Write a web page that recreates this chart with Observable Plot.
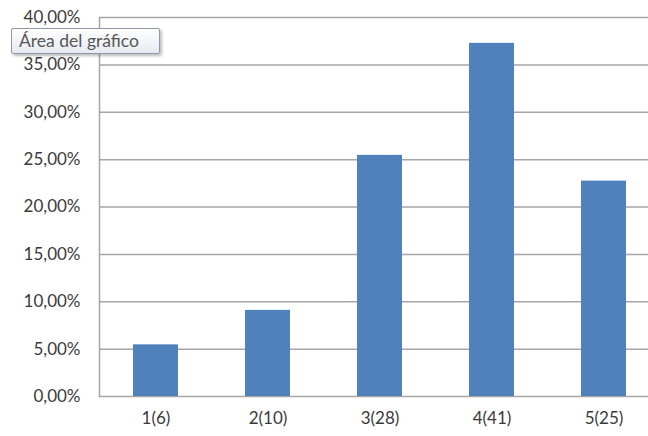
<!DOCTYPE html>
<html>
<head>
<meta charset="utf-8">
<script src="https://cdn.jsdelivr.net/npm/d3@7"></script>
<script src="https://cdn.jsdelivr.net/npm/@observablehq/plot@0.6"></script>
<style>
  html, body { margin: 0; padding: 0; background: #fff; }
  #wrap { position: relative; width: 648px; height: 436px; overflow: hidden; }
  #tip {
    position: absolute; left: 11px; top: 28px; width: 140px; height: 24px;
    border: 1px solid #8f98a8; border-radius: 2px;
    background: linear-gradient(#ffffff, #e6eaf2);
    box-shadow: 2px 2px 3px rgba(0,0,0,0.25);
    font-family: Lato, "Open Sans", sans-serif; font-size: 17.5px; color: #575757;
    line-height: 24px; padding-left: 7px; box-sizing: content-box; white-space: nowrap;
  }
</style>
</head>
<body>
<div id="wrap"></div>
<script>
const categories = ["1(6)", "2(10)", "3(28)", "4(41)", "5(25)"];
const values = [5.45, 9.09, 25.45, 37.27, 22.73];
const yTicks = [0, 5, 10, 15, 20, 25, 30, 35, 40];

const data = categories.map((c, i) => ({ cat: c, v: values[i] }));

const chart = Plot.plot({
  width: 648,
  height: 436,
  marginTop: 17,
  marginBottom: 40,
  marginLeft: 99,
  marginRight: 0,
  style: { fontFamily: "Lato, 'Open Sans', sans-serif", fontSize: "17px", color: "#3a3a3a", background: "#fff", overflow: "hidden" },
  x: { domain: categories, range: [99, 659], paddingInner: 0.6, paddingOuter: 0.3, label: null },
  y: { domain: [0, 40], label: null },
  marks: [
    Plot.ruleY(yTicks, { stroke: "#a6a6a6", strokeWidth: 1.5 }),
    Plot.frame({ anchor: "left", stroke: "#a6a6a6", strokeWidth: 1.5 }),
    Plot.barY(data, { x: "cat", y: "v", fill: "#4F81BD" }),
    Plot.axisY(yTicks, { tickSize: 0, tickPadding: 19, fontSize: 17, fill: "#3a3a3a",
      tickFormat: d => d.toFixed(2).replace(".", ",") + "%" }),
    Plot.axisX({ tickSize: 0, tickPadding: 15, fontSize: 17, fill: "#3a3a3a" })
  ]
});
const wrap = document.getElementById("wrap");
wrap.appendChild(chart);
const tip = document.createElement("div");
tip.id = "tip";
tip.textContent = "Área del gráfico";
wrap.appendChild(tip);
</script>
</body>
</html>
